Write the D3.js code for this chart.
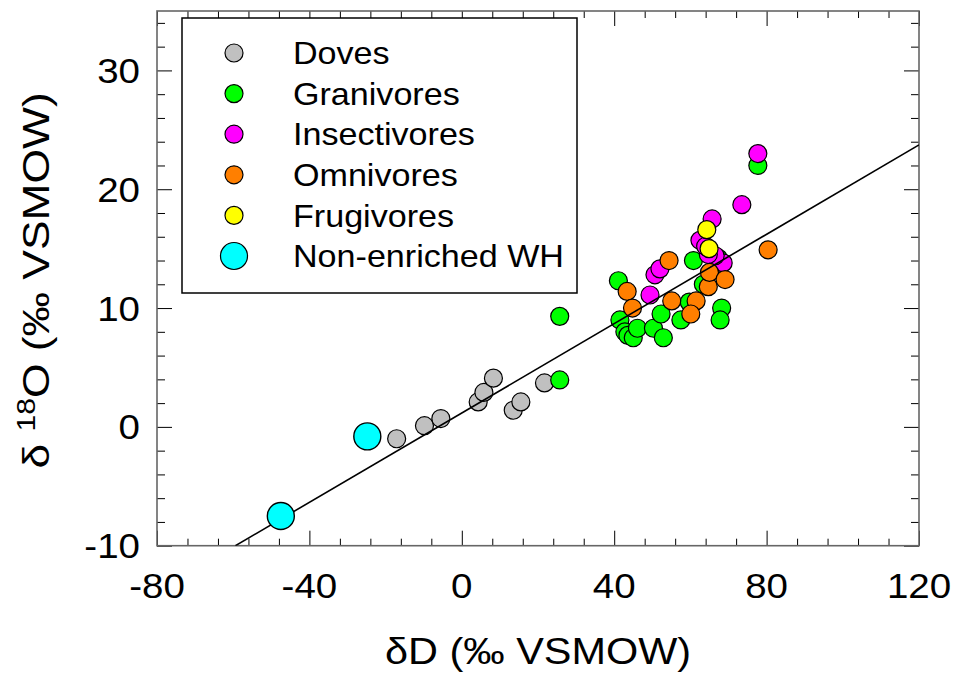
<!DOCTYPE html>
<html>
<head>
<meta charset="utf-8">
<script src="https://cdn.jsdelivr.net/npm/d3@7/dist/d3.min.js"></script>
<style>
  html, body { margin: 0; padding: 0; background: #fff; }
  svg { display: block; font-family: "Liberation Sans", Arial, Helvetica, sans-serif; }
</style>
</head>
<body>
<svg id="chart" width="954" height="677"></svg>
<script>
// δD vs δ18O (‰ VSMOW) by feeding guild
const doves = [[-17.1,-1.0],[-9.8,0.1],[-5.5,0.7],[4.3,2.1],[5.8,2.9],[8.3,4.1],[13.5,1.4],[15.5,2.1],[21.7,3.7]];
const granivores = [[25.7,3.95],[25.7,9.3],[41.1,12.3],[41.5,9.0],[42.8,8.0],[43.6,7.7],[45.0,7.5],[46.1,8.3],
  [50.3,8.3],[52.3,9.5],[52.9,7.5],[57.5,9.0],[59.7,10.5],[60.8,14.0],[63.4,12.0],[67.3,14.2],[68.2,10.0],[67.8,9.0],[77.7,22.0]];
const insectivores = [[49.4,11.1],[50.7,12.8],[52.0,13.3],[62.5,15.7],[65.7,17.5],[73.5,18.7],[77.7,23.0],
  [68.6,13.8],[66.5,14.4],[64.7,14.5],[64.0,15.2]];
const omnivores = [[43.4,11.4],[44.8,10.0],[54.4,14.0],[55.1,10.6],[61.5,10.6],[60.1,9.5],[64.7,11.8],[65.0,13.0],[69.1,12.4],[80.4,14.9]];
const frugivores = [[64.3,16.6],[64.9,15.0]];
const nonEnrichedWH = [[-47.5,-7.5],[-24.8,-0.8]];

// regression line: δ18O = slope * δD + intercept
const slope = 0.188;
const intercept = 1.17;

const xTicks = [-80, -40, 0, 40, 80, 120];
const yTicks = [-10, 0, 10, 20, 30];

const groups = [
  {name: "Doves", data: doves, color: "#c0c0c0", r: 9},
  {name: "Granivores", data: granivores, color: "#00ff00", r: 9},
  {name: "Insectivores", data: insectivores, color: "#ff00ff", r: 9},
  {name: "Omnivores", data: omnivores, color: "#ff7f00", r: 9},
  {name: "Frugivores", data: frugivores, color: "#ffff00", r: 9},
  {name: "Non-enriched WH", data: nonEnrichedWH, color: "#00ffff", r: 13.5}
];

const L = 157, R = 919, T = 11, B = 545.7;
const svg = d3.select("#chart");
const x = d3.scaleLinear().domain([-80, 120]).range([L, R]);
const y = d3.scaleLinear().domain([-10, 35]).range([B, T]);

// text is drawn slightly widened horizontally
const wide = 1.1;

// inward tick marks on all four sides
const xMinor = d3.range(-80, 120.01, 8);
const yMinor = d3.range(-10, 35.01, 2);
const isMajorX = v => xTicks.some(t => Math.abs(t - v) < 1e-6);
const isMajorY = v => yTicks.some(t => Math.abs(t - v) < 1e-6);

const frame = svg.append("g");
frame.append("g").attr("transform", `translate(0,${B})`)
  .call(d3.axisBottom(x).tickValues(xMinor).tickSizeInner(0).tickSizeOuter(0).tickFormat(""))
  .call(g => g.select(".domain").remove())
  .call(g => g.selectAll(".tick line").attr("y2", d => isMajorX(d) ? -15 : -7).attr("stroke", "#000"));
frame.append("g").attr("transform", `translate(0,${T})`)
  .call(d3.axisTop(x).tickValues(xMinor).tickSizeInner(0).tickSizeOuter(0).tickFormat(""))
  .call(g => g.select(".domain").remove())
  .call(g => g.selectAll(".tick line").attr("y2", d => isMajorX(d) ? 15 : 7).attr("stroke", "#000"));
frame.append("g").attr("transform", `translate(${L},0)`)
  .call(d3.axisLeft(y).tickValues(yMinor).tickSizeInner(0).tickSizeOuter(0).tickFormat(""))
  .call(g => g.select(".domain").remove())
  .call(g => g.selectAll(".tick line").attr("x2", d => isMajorY(d) ? 15 : 8).attr("stroke", "#000"));
frame.append("g").attr("transform", `translate(${R},0)`)
  .call(d3.axisRight(y).tickValues(yMinor).tickSizeInner(0).tickSizeOuter(0).tickFormat(""))
  .call(g => g.select(".domain").remove())
  .call(g => g.selectAll(".tick line").attr("x2", d => isMajorY(d) ? -15 : -8).attr("stroke", "#000"));

frame.append("rect").attr("x", L).attr("y", T).attr("width", R - L).attr("height", B - T)
  .attr("fill", "none").attr("stroke", "#666").attr("stroke-width", 1.6);

// tick labels
svg.append("g").selectAll("text").data(xTicks).join("text")
  .attr("transform", d => `translate(${x(d)},598) scale(${wide},1)`).attr("text-anchor", "middle")
  .attr("font-size", 35).attr("fill", "#000").text(d => d);
svg.append("g").selectAll("text").data(yTicks).join("text")
  .attr("transform", d => `translate(140,${y(d)}) scale(${wide},1)`).attr("dy", "0.36em").attr("text-anchor", "end")
  .attr("font-size", 35).attr("fill", "#000").text(d => d);

// axis titles
svg.append("text").attr("transform", `translate(${(L + R) / 2},664) scale(1.12,1)`).attr("text-anchor", "middle")
  .attr("font-size", 37).attr("fill", "#000").text("δD (‰ VSMOW)");
const yt = svg.append("text").attr("transform", `translate(49,${(T + B) / 2 + 2}) rotate(-90) scale(1.2,1)`)
  .attr("text-anchor", "middle").attr("font-size", 37).attr("fill", "#000");
yt.append("tspan").text("δ ");
yt.append("tspan").attr("font-size", 25).attr("dy", "-0.55em").text("18");
yt.append("tspan").attr("dy", "0.37em").text("O (‰ VSMOW)");

// points
svg.append("clipPath").attr("id", "plotClip")
  .append("rect").attr("x", L).attr("y", T).attr("width", R - L).attr("height", B - T);

const smallGroups = groups.slice(0, 5);
const pts = svg.append("g");
smallGroups.forEach(g => {
  pts.append("g").selectAll("circle").data(g.data).join("circle")
    .attr("cx", d => x(d[0])).attr("cy", d => y(d[1])).attr("r", g.r)
    .attr("fill", g.color).attr("stroke", "#000").attr("stroke-width", 1.2);
});

// regression line
const x0 = (-10 - intercept) / slope, x1 = 120;
svg.append("line").attr("clip-path", "url(#plotClip)")
  .attr("x1", x(x0)).attr("y1", y(slope * x0 + intercept))
  .attr("x2", x(x1)).attr("y2", y(slope * x1 + intercept))
  .attr("stroke", "#000").attr("stroke-width", 1.6);

const wh = groups[5];
svg.append("g").selectAll("circle").data(wh.data).join("circle")
  .attr("cx", d => x(d[0])).attr("cy", d => y(d[1])).attr("r", wh.r)
  .attr("fill", wh.color).attr("stroke", "#000").attr("stroke-width", 1.4);

// legend
const leg = svg.append("g");
leg.append("rect").attr("x", 182).attr("y", 18).attr("width", 395).attr("height", 275)
  .attr("fill", "#fff").attr("stroke", "#000").attr("stroke-width", 1.5);
const rows = leg.selectAll("g.row").data(groups).join("g").attr("class", "row")
  .attr("transform", (d, i) => `translate(0,${53 + i * 40.6})`);
rows.append("circle").attr("cx", 234).attr("cy", 0).attr("r", d => d.r)
  .attr("fill", d => d.color).attr("stroke", "#000").attr("stroke-width", 1.2);
rows.append("text").attr("transform", `translate(293,0) scale(${wide},1)`).attr("dy", "0.36em")
  .attr("font-size", 31).attr("fill", "#000")
  .text(d => d.name);
</script>
</body>
</html>
